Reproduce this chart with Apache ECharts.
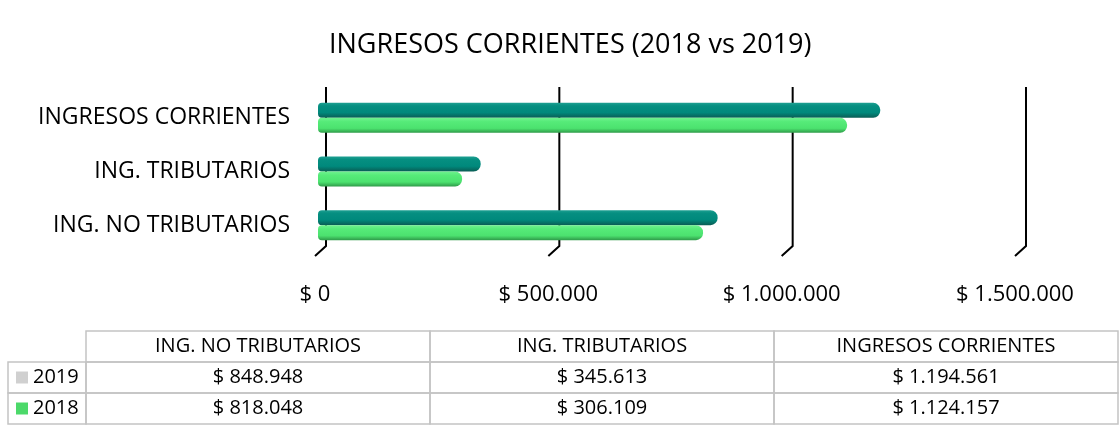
<!DOCTYPE html>
<html>
<head>
<meta charset="utf-8">
<script src="https://cdn.jsdelivr.net/npm/echarts@6/dist/echarts.min.js"></script>
<style>
html, body { margin: 0; padding: 0; background: #fff; }
#main { width: 1119px; height: 430px; }
</style>
</head>
<body>
<div id="main"></div>
<script>
// datos
var categorias = ['ING. NO TRIBUTARIOS', 'ING. TRIBUTARIOS', 'INGRESOS CORRIENTES'];
var anios = ['2019', '2018'];
var valores2019 = [848948, 345613, 1194561];
var valores2018 = [818048, 306109, 1124157];
var ticks = [0, 500000, 1000000, 1500000];

var fuente = '"Open Sans", "Noto Sans", sans-serif';

function formato(v) {
  return '$ ' + String(v).replace(/\B(?=(\d{3})+(?!\d))/g, '.');
}

// tabla de datos debajo del grafico
var tabla = [];
var colX = 86, colW = 344, filaH = 31, tablaTop = 331;
categorias.forEach(function (c, i) {
  tabla.push({
    type: 'rect', shape: { x: colX + i * colW, y: tablaTop, width: colW, height: filaH },
    style: { fill: null, stroke: '#c4c4c4', lineWidth: 1.5 }
  });
  tabla.push({
    type: 'text', x: colX + i * colW + colW / 2, y: tablaTop + filaH / 2,
    style: { text: c, font: '20px ' + fuente, fill: '#000', align: 'center', verticalAlign: 'middle' }
  });
});
var filas = [valores2019, valores2018];
var marcas = ['#d0d0d0', '#4cd96a'];
filas.forEach(function (vals, r) {
  var y = tablaTop + filaH * (r + 1);
  tabla.push({
    type: 'rect', shape: { x: 8, y: y, width: colX - 8, height: filaH },
    style: { fill: null, stroke: '#c4c4c4', lineWidth: 1.5 }
  });
  tabla.push({
    type: 'rect', shape: { x: 16, y: y + filaH / 2 - 6, width: 12, height: 12 },
    style: { fill: marcas[r] }
  });
  tabla.push({
    type: 'text', x: 33, y: y + filaH / 2,
    style: { text: anios[r], font: '20px ' + fuente, fill: '#000', align: 'left', verticalAlign: 'middle' }
  });
  vals.forEach(function (v, i) {
    tabla.push({
      type: 'rect', shape: { x: colX + i * colW, y: y, width: colW, height: filaH },
      style: { fill: null, stroke: '#c4c4c4', lineWidth: 1.5 }
    });
    tabla.push({
      type: 'text', x: colX + i * colW + colW / 2, y: y + filaH / 2,
      style: { text: formato(v), font: '20px ' + fuente, fill: '#000', align: 'center', verticalAlign: 'middle' }
    });
  });
});

var myChart = echarts.init(document.getElementById('main'));

var option = {
  animation: false,
  backgroundColor: '#fff',
  title: {
    text: 'INGRESOS CORRIENTES (2018 vs 2019)',
    left: 324,
    top: 27,
    textStyle: { fontFamily: fuente, fontSize: 27, fontWeight: 'normal', color: '#000' }
  },
  grid: [
    // plano de fondo (lineas de division)
    { left: 326, right: 93, top: 87, bottom: 184 },
    // barras
    { left: 318, right: 95, top: 91, bottom: 178 },
    // etiquetas del eje
    { left: 315, right: 104, top: 200, bottom: 173 }
  ],
  xAxis: [
    { gridIndex: 0, type: 'value', min: 0, max: 1500000, show: false },
    { gridIndex: 1, type: 'value', min: 0, max: 1500000, show: false },
    {
      gridIndex: 2, type: 'value', min: 0, max: 1500000, interval: 500000,
      axisLine: { show: false }, axisTick: { show: false }, splitLine: { show: false },
      axisLabel: { margin: 27, fontFamily: fuente, fontSize: 22, color: '#000', formatter: formato }
    }
  ],
  yAxis: [
    { gridIndex: 0, type: 'value', min: 0, max: 1, show: false },
    {
      gridIndex: 1, type: 'category', data: categorias,
      axisLine: { show: false }, axisTick: { show: false },
      axisLabel: { margin: 28, fontFamily: fuente, fontSize: 23, color: '#000' }
    },
    { gridIndex: 2, type: 'value', show: false }
  ],
  series: [
    {
      type: 'custom',
      xAxisIndex: 0, yAxisIndex: 0,
      z: 1,
      silent: true,
      data: ticks.map(function (t) { return [t]; }),
      renderItem: function (params, api) {
        var arriba = api.coord([api.value(0), 1]);
        var abajo = api.coord([api.value(0), 0]);
        return {
          type: 'polyline',
          shape: { points: [arriba, abajo, [abajo[0] - 11, abajo[1] + 10]] },
          style: { stroke: '#000', lineWidth: 2, fill: null }
        };
      }
    },
    {
      name: anios[0],
      type: 'bar',
      xAxisIndex: 1, yAxisIndex: 1,
      z: 3,
      barWidth: 15,
      barGap: '0%',
      itemStyle: {
        borderRadius: [4, 7, 7, 4],
        color: new echarts.graphic.LinearGradient(0, 0, 0, 1, [
          { offset: 0, color: '#1ea092' },
          { offset: 0.2, color: '#068f81' },
          { offset: 0.65, color: '#00897c' },
          { offset: 1, color: '#0a5c54' }
        ])
      },
      data: valores2019
    },
    {
      name: anios[1],
      type: 'bar',
      xAxisIndex: 1, yAxisIndex: 1,
      z: 3,
      barWidth: 15,
      itemStyle: {
        borderRadius: [4, 7, 7, 4],
        color: new echarts.graphic.LinearGradient(0, 0, 0, 1, [
          { offset: 0, color: '#70f290' },
          { offset: 0.25, color: '#56eb79' },
          { offset: 0.7, color: '#4ce26f' },
          { offset: 1, color: '#2f9a49' }
        ])
      },
      data: valores2018
    },
    {
      type: 'scatter', xAxisIndex: 2, yAxisIndex: 2, data: [], silent: true
    }
  ],
  graphic: tabla
};

myChart.setOption(option);
</script>
</body>
</html>
